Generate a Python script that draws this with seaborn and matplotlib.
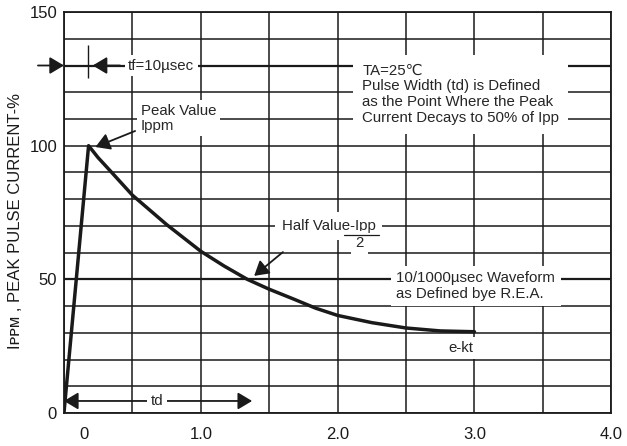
import numpy as np
import seaborn as sns
import matplotlib.pyplot as plt
import matplotlib.transforms as mtransforms

# pulse waveform (time in ms, current in % of Ippm)
time_ms = [0, 0.18, 0.25, 0.34, 0.5, 0.75, 1.0, 1.17, 1.34, 1.5, 1.67, 1.84, 2.0, 2.25, 2.5, 2.75, 3.0]
current_pct = [0, 100, 95.5, 90.5, 81.5, 70.5, 60.5, 55, 50, 46.3, 42.8, 39.2, 36.5, 33.8, 31.8, 30.7, 30.4]

x_ticks = [0, 1, 2, 3, 4]
x_tick_labels = ['0', '1.0', '2.0', '3.0', '4.0']
y_ticks = [0, 50, 100, 150]
y_tick_labels = ['0', '50', '100', '150']

sns.set_theme(style='white')
plt.rcParams['font.family'] = ['Liberation Sans', 'DejaVu Sans']

fig = plt.figure(figsize=(6.27, 4.46), dpi=100)
ax = fig.add_axes([0.102, 0.074, 0.873, 0.899])

sns.lineplot(x=time_ms, y=current_pct, ax=ax, color='#1a1a1a', lw=2.5, sort=False, zorder=5)

ax.set_xlim(0, 4)
ax.set_ylim(0, 150)
ax.set_xticks(x_ticks)
ax.set_xticklabels(x_tick_labels)
ax.set_yticks(y_ticks)
ax.set_yticklabels(y_tick_labels)
ax.set_xticks(np.arange(0, 4.01, 0.5), minor=True)
ax.set_yticks(np.arange(0, 151, 10), minor=True)
ax.set_axisbelow(True)
ax.grid(True, which='both', color='#1a1a1a', lw=1.1)
# a couple of the grid rows are drawn heavier in the original
for yy in [50, 130]:
    ax.axhline(yy, color='#1a1a1a', lw=1.6, zorder=1)
ax.tick_params(which='both', length=0, labelsize=12, colors='#1a1a1a')
ax.tick_params(axis='x', pad=10)
ax.tick_params(axis='y', pad=5)
for s in ax.spines.values():
    s.set_color('#1a1a1a')
    s.set_linewidth(1.3)

# the "0" on the time axis sits a little right of the frame in the original
lab0 = ax.get_xticklabels()[0]
lab0.set_transform(lab0.get_transform() + mtransforms.ScaledTranslation(0.2, 0, fig.dpi_scale_trans))

ax.set_ylabel('I\u1d18\u1d18\u1d0d , PEAK PULSE CURRENT-%', fontsize=12, color='#1a1a1a')
ax.yaxis.set_label_coords(-0.074, 0.479)

box = dict(boxstyle='square,pad=0.25', fc='white', ec='none')
arrow = dict(arrowstyle='-|>,head_length=0.72,head_width=0.43', color='#1a1a1a', lw=1.3, shrinkA=0, shrinkB=0)
fs = 10.8

# tf = 10 usec rise time marks
ax.annotate('', xy=(0, 130), xytext=(-0.19, 130), arrowprops=arrow, annotation_clip=False, zorder=6)
ax.annotate('', xy=(0.21, 130), xytext=(0.41, 130), arrowprops=arrow, zorder=6)
ax.vlines(0.175, 125.5, 137.5, color='#1a1a1a', lw=1.0, zorder=4)
ax.text(0.47, 130, 'tf=10\u00b5sec', fontsize=fs, ha='left', va='center', bbox=box, zorder=6)

# peak value
ax.text(0.56, 110.3, 'Peak Value\nIppm', fontsize=fs, ha='left', va='center', bbox=box,
        linespacing=1.1, zorder=6)
ax.annotate('', xy=(0.23, 99.5), xytext=(0.52, 105.5), arrowprops=arrow, zorder=6)

# conditions
ax.text(2.18, 119.3, 'TA=25\u2103\nPulse Width (td) is Defined\nas the Point Where the Peak\n'
        'Current Decays to 50% of Ipp', fontsize=fs, ha='left', va='center',
        linespacing=1.15, bbox=dict(boxstyle='square,pad=0.6', fc='white', ec='none'), zorder=6)

# half value
ax.text(1.59, 70, 'Half Value-Ipp', fontsize=fs, ha='left', va='center',
        bbox=dict(boxstyle='square,pad=0.45', fc='white', ec='none'), zorder=6)
ax.text(2.16, 63.6, '2', fontsize=fs, ha='center', va='center',
        bbox=dict(boxstyle='square,pad=0.3', fc='white', ec='none'), zorder=6)
ax.plot([2.05, 2.30], [66.6, 66.6], color='#1a1a1a', lw=0.9, zorder=7)
ax.annotate('', xy=(1.39, 51.3), xytext=(1.60, 60.2), arrowprops=arrow, zorder=6)

# waveform description
ax.text(2.43, 47.5, '10/1000\u00b5sec Waveform\nas Defined bye R.E.A.', fontsize=fs, ha='left',
        va='center', linespacing=1.1, bbox=dict(boxstyle='square,pad=0.35', fc='white', ec='none'),
        zorder=6)

ax.text(2.90, 24.3, 'e-kt', fontsize=fs, ha='center', va='center', bbox=box, zorder=6)

# pulse width td
ax.annotate('', xy=(1.375, 4.5), xytext=(0.0, 4.5),
            arrowprops=dict(arrowstyle='<|-|>,head_length=0.72,head_width=0.43', color='#1a1a1a',
                            lw=1.3, shrinkA=0, shrinkB=0), zorder=6)
ax.text(0.68, 4.5, 'td', fontsize=fs, ha='center', va='center', bbox=box, zorder=7)

fig.savefig('out.png', dpi=100)
